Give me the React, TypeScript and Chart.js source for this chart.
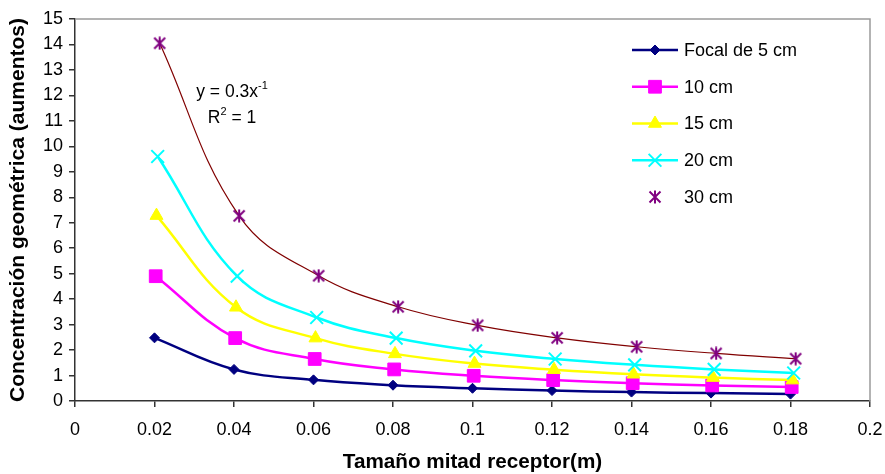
import React, { useEffect, useRef } from 'react';
import { Chart, registerables } from 'chart.js';
import { drawPoint } from 'chart.js/helpers';

Chart.register(...registerables);

const seriesNames = ['Focal de 5 cm', '10 cm', '15 cm', '20 cm', '30 cm'];

const x5 = [0.02, 0.04, 0.06, 0.08, 0.1, 0.12, 0.14, 0.16, 0.18];
const x10 = [0.0203, 0.0403, 0.0603, 0.0803, 0.1003, 0.1203, 0.1403, 0.1603, 0.1803];
const x15 = [0.0205, 0.0405, 0.0605, 0.0805, 0.1005, 0.1205, 0.1405, 0.1605, 0.1805];
const x20 = [0.0208, 0.0408, 0.0608, 0.0808, 0.1008, 0.1208, 0.1408, 0.1608, 0.1808];
const x30 = [0.0213, 0.0413, 0.0613, 0.0813, 0.1013, 0.1213, 0.1413, 0.1613, 0.1813];

const y5 = [2.48, 1.24, 0.83, 0.62, 0.5, 0.41, 0.35, 0.31, 0.27];
const y10 = [4.9, 2.47, 1.65, 1.24, 0.99, 0.82, 0.7, 0.61, 0.55];
const y15 = [7.28, 3.68, 2.47, 1.85, 1.47, 1.23, 1.05, 0.92, 0.82];
const y20 = [9.6, 4.9, 3.28, 2.47, 1.97, 1.65, 1.42, 1.24, 1.1];
const y30 = [14.05, 7.27, 4.92, 3.7, 2.97, 2.48, 2.13, 1.87, 1.66];

const xTickValues = [0, 0.02, 0.04, 0.06, 0.08, 0.1, 0.12, 0.14, 0.16, 0.18, 0.2];
const xTickLabels = ['0', '0.02', '0.04', '0.06', '0.08', '0.1', '0.12', '0.14', '0.16', '0.18', '0.2'];
const yTickValues = [0, 1, 2, 3, 4, 5, 6, 7, 8, 9, 10, 11, 12, 13, 14, 15];
const yTickLabels = ['0', '1', '2', '3', '4', '5', '6', '7', '8', '9', '10', '11', '12', '13', '14', '15'];

const trendEquation = 'y = 0.3x';
const trendExponent = '-1';
const rSquaredBase = 'R';
const rSquaredExp = '2';
const rSquaredRest = ' = 1';

const FONT = 'Arial, "Liberation Sans", sans-serif';

function makeStar(color: string, size: number, lw: number): HTMLCanvasElement {
  const c = document.createElement('canvas');
  c.width = size;
  c.height = size;
  const g = c.getContext('2d')!;
  g.strokeStyle = color;
  g.lineWidth = lw;
  const m = 1.5;
  g.beginPath();
  g.moveTo(m, m);
  g.lineTo(size - m, size - m);
  g.moveTo(size - m, m);
  g.lineTo(m, size - m);
  g.moveTo(size / 2, 0.5);
  g.lineTo(size / 2, size - 0.5);
  g.stroke();
  return c;
}

const pts = (xs: number[], ys: number[]) => xs.map((x, i) => ({ x, y: ys[i] }));

export default function App() {
  const ref = useRef<HTMLCanvasElement>(null);

  useEffect(() => {
    const canvas = ref.current!;
    const star = makeStar('#800080', 14, 2);

    const legendPlugin = {
      id: 'customLegend',
      afterDraw(chart: any) {
        const ctx = chart.ctx;
        const ds = chart.data.datasets;
        ctx.save();
        ds.forEach((d: any, i: number) => {
          const y = 50 + i * 36.75;
          const x0 = 632;
          const x1 = 678;
          if (d.legendLine !== false) {
            ctx.strokeStyle = d.borderColor;
            ctx.lineWidth = d.borderWidth;
            ctx.beginPath();
            ctx.moveTo(x0, y);
            ctx.lineTo(x1, y);
            ctx.stroke();
          }
          ctx.fillStyle = d.pointBackgroundColor;
          ctx.strokeStyle = d.pointBorderColor;
          ctx.lineWidth = d.pointBorderWidth;
          drawPoint(ctx, {
            pointStyle: d.pointStyle,
            rotation: 0,
            radius: d.pointRadius,
            borderWidth: d.pointBorderWidth,
          }, (x0 + x1) / 2, y);
          ctx.fillStyle = '#000';
          ctx.font = `18px ${FONT}`;
          ctx.textBaseline = 'middle';
          ctx.textAlign = 'left';
          ctx.fillText(d.label, 684, y + 1);
        });
        ctx.restore();
      },
    };

    const framePlugin = {
      id: 'frame',
      beforeDatasetsDraw(chart: any) {
        const { ctx, chartArea } = chart;
        ctx.save();
        ctx.strokeStyle = '#9a9a9a';
        ctx.lineWidth = 1.5;
        ctx.beginPath();
        ctx.moveTo(chartArea.left, chartArea.top);
        ctx.lineTo(chartArea.right, chartArea.top);
        ctx.lineTo(chartArea.right, chartArea.bottom);
        ctx.stroke();
        ctx.restore();
      },
    };

    const annotationPlugin = {
      id: 'trendText',
      afterDraw(chart: any) {
        const ctx = chart.ctx;
        ctx.save();
        ctx.fillStyle = '#000';
        ctx.textBaseline = 'alphabetic';
        ctx.textAlign = 'left';
        const big = `17.5px ${FONT}`;
        const small = `11px ${FONT}`;
        const cx = 232;
        ctx.font = big;
        const w1 = ctx.measureText(trendEquation).width;
        ctx.font = small;
        const w1s = ctx.measureText(trendExponent).width;
        let sx = cx - (w1 + w1s) / 2;
        ctx.font = big;
        ctx.fillText(trendEquation, sx, 97);
        ctx.font = small;
        ctx.fillText(trendExponent, sx + w1, 89);
        ctx.font = big;
        const wa = ctx.measureText(rSquaredBase).width;
        const wc = ctx.measureText(rSquaredRest).width;
        ctx.font = small;
        const wb = ctx.measureText(rSquaredExp).width;
        sx = cx - (wa + wb + wc) / 2;
        ctx.font = big;
        ctx.fillText(rSquaredBase, sx, 123);
        ctx.font = small;
        ctx.fillText(rSquaredExp, sx + wa, 115);
        ctx.font = big;
        ctx.fillText(rSquaredRest, sx + wa + wb, 123);
        ctx.restore();
      },
    };

    const common = {
      showLine: true,
      tension: 0.4,
      borderWidth: 2.5,
      pointBorderWidth: 1,
    };

    const chart = new Chart(canvas, {
      type: 'scatter',
      data: {
        datasets: [
          {
            ...common,
            label: seriesNames[0],
            data: pts(x5, y5),
            borderColor: '#000080',
            pointBackgroundColor: '#000080',
            pointBorderColor: '#000080',
            pointStyle: 'rectRot',
            pointRadius: 5,
            order: 5,
          },
          {
            ...common,
            label: seriesNames[1],
            data: pts(x10, y10),
            borderColor: '#FF00FF',
            pointBackgroundColor: '#FF00FF',
            pointBorderColor: '#FF00FF',
            pointStyle: 'rect',
            pointRadius: 9,
            order: 4,
          },
          {
            ...common,
            label: seriesNames[2],
            data: pts(x15, y15),
            borderColor: '#FFFF00',
            pointBackgroundColor: '#FFFF00',
            pointBorderColor: '#FFFF00',
            pointStyle: 'triangle',
            pointRadius: 7.5,
            order: 3,
          },
          {
            ...common,
            label: seriesNames[3],
            data: pts(x20, y20),
            borderColor: '#00FFFF',
            pointBackgroundColor: '#00FFFF',
            pointBorderColor: '#00FFFF',
            pointStyle: 'crossRot',
            pointRadius: 9,
            pointBorderWidth: 2,
            order: 2,
          },
          {
            ...common,
            label: seriesNames[4],
            data: pts(x30, y30),
            borderColor: '#800000',
            borderWidth: 1.2,
            pointBackgroundColor: '#800080',
            pointBorderColor: '#800080',
            pointStyle: star,
            pointRadius: 7,
            pointBorderWidth: 2,
            legendLine: false,
            order: 1,
          } as any,
        ],
      },
      options: {
        animation: false,
        responsive: false,
        maintainAspectRatio: false,
        layout: { padding: { left: 0, right: 15, top: 19, bottom: 0 } },
        plugins: {
          legend: { display: false },
          tooltip: { enabled: false },
        },
        scales: {
          x: {
            type: 'linear',
            min: 0,
            max: 0.2,
            afterBuildTicks: (s: any) => {
              s.ticks = xTickValues.map((v) => ({ value: v }));
            },
            afterFit: (s: any) => {
              s.height = 73;
              s.paddingLeft = 0;
              s.paddingRight = 0;
            },
            ticks: {
              color: '#000',
              font: { family: FONT, size: 18 },
              padding: 12,
              maxRotation: 0,
              autoSkip: false,
              callback: (_v: any, i: number) => xTickLabels[i],
            },
            grid: {
              display: true,
              drawOnChartArea: false,
              drawTicks: true,
              tickLength: 6,
              color: '#333',
              lineWidth: 1.5,
            },
            border: { display: true, color: '#333', width: 1.5 },
            title: {
              display: true,
              text: 'Tamaño mitad receptor(m)',
              color: '#000',
              font: { family: FONT, size: 20.7, weight: 'bold', lineHeight: 1 },
              padding: { top: 0, bottom: 1 },
            },
          },
          y: {
            type: 'linear',
            min: 0,
            max: 15,
            afterBuildTicks: (s: any) => {
              s.ticks = yTickValues.map((v) => ({ value: v }));
            },
            afterFit: (s: any) => {
              s.width = 75;
              s.paddingTop = 0;
              s.paddingBottom = 0;
            },
            ticks: {
              color: '#000',
              font: { family: FONT, size: 18 },
              padding: 6,
              autoSkip: false,
              callback: (_v: any, i: number) => yTickLabels[i],
            },
            grid: {
              display: true,
              drawOnChartArea: false,
              drawTicks: true,
              tickLength: 6,
              color: '#333',
              lineWidth: 1.5,
            },
            border: { display: true, color: '#333', width: 1.5 },
            title: {
              display: true,
              text: 'Concentración geométrica (aumentos)',
              color: '#000',
              font: { family: FONT, size: 21, weight: 'bold', lineHeight: 1 },
              padding: { top: 8, bottom: 0 },
            },
          },
        },
      },
      plugins: [framePlugin, legendPlugin, annotationPlugin],
    });

    return () => chart.destroy();
  }, []);

  return (
    <div style={{ position: 'absolute', left: 0, top: 0, width: 885, height: 474, background: '#fff' }}>
      <canvas ref={ref} width={885} height={474} style={{ display: 'block' }} />
    </div>
  );
}
